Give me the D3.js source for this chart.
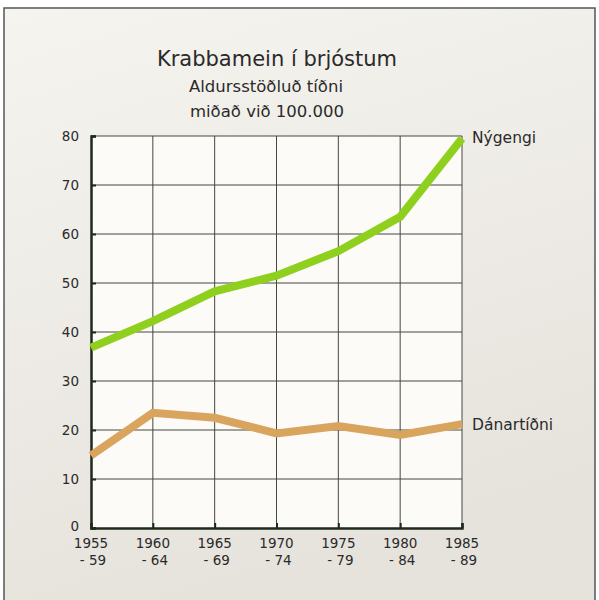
<!DOCTYPE html>
<html><head><meta charset="utf-8">
<script src="https://cdn.jsdelivr.net/npm/d3@7"></script>
<style>
html,body{margin:0;padding:0;background:#fff;}
svg{display:block;}
text{font-family:"DejaVu Sans","Liberation Sans",sans-serif;fill:#2a2a2a;}
</style></head>
<body>
<svg id="c" width="599" height="600"></svg>
<script>
const periods = ["1955","1960","1965","1970","1975","1980","1985"];
const periodEnds = ["- 59","- 64","- 69","- 74","- 79","- 84","- 89"];
const nygengi = [36.8, 42.2, 48.3, 51.5, 56.5, 63.5, 79.5];
const danartidni = [14.8, 23.5, 22.5, 19.3, 20.8, 19.0, 21.2];
const yTicks = [0,10,20,30,40,50,60,70,80];
const titleLines = ["Krabbamein í brjóstum","Aldursstöðluð tíðni","miðað við 100.000"];
const seriesNames = ["Nýgengi","Dánartíðni"];

const svg = d3.select("#c");
const defs = svg.append("defs");
const grad = defs.append("linearGradient").attr("id","bg").attr("x1","0").attr("y1","0").attr("x2","0.3").attr("y2","1");
grad.append("stop").attr("offset","0").attr("stop-color","#f6f4ef");
grad.append("stop").attr("offset","1").attr("stop-color","#e6e3dd");
svg.append("rect").attr("x",0).attr("y",0).attr("width",599).attr("height",600).attr("fill","#fff");
svg.append("rect").attr("x",4).attr("y",8).attr("width",591).attr("height",600)
  .attr("fill","url(#bg)").attr("stroke","#555").attr("stroke-width",1.5);

const x = d3.scalePoint().domain(periods).range([91,462]);
const y = d3.scaleLinear().domain([0,80]).range([528,136]);

svg.append("rect").attr("x",x(periods[0])).attr("y",y(80))
  .attr("width",x(periods[6])-x(periods[0])).attr("height",y(0)-y(80)).attr("fill","#fcfbf7");

svg.append("g").selectAll("line").data(yTicks.slice(1)).join("line")
  .attr("x1",x(periods[0])).attr("x2",x(periods[6]))
  .attr("y1",d=>y(d)).attr("y2",d=>y(d))
  .attr("stroke","#45483f").attr("stroke-width",1);
svg.append("g").selectAll("line").data(periods.slice(1)).join("line")
  .attr("x1",d=>x(d)).attr("x2",d=>x(d))
  .attr("y1",y(80)).attr("y2",y(0))
  .attr("stroke","#45483f").attr("stroke-width",1);

const yAxis = d3.axisRight(y).tickValues(yTicks).tickSize(5).tickFormat("");
const gy = svg.append("g").attr("transform",`translate(${x(periods[0])},0)`).call(yAxis);
gy.select(".domain").attr("stroke","#1e2a1e").attr("stroke-width",2.5);
gy.selectAll(".tick line").attr("stroke","#1e2a1e").attr("stroke-width",2);
const xAxis = d3.axisTop(x).tickSize(5).tickFormat("");
const gx = svg.append("g").attr("transform",`translate(0,${y(0)})`).call(xAxis);
gx.select(".domain").attr("stroke","#1e2a1e").attr("stroke-width",2.5);
gx.selectAll(".tick line").attr("stroke","#1e2a1e").attr("stroke-width",2);

svg.append("g").selectAll("text").data(yTicks).join("text")
  .attr("x",79).attr("y",d=>y(d)+(d===0?3:5)).attr("text-anchor","end")
  .attr("font-size",13.5).text(d=>d);

const xl = svg.append("g");
xl.selectAll("text.a").data(periods).join("text").attr("class","a")
  .attr("x",d=>x(d)).attr("y",548).attr("text-anchor","middle").attr("font-size",13.5).text(d=>d);
xl.selectAll("text.b").data(periods).join("text").attr("class","b")
  .attr("x",(d,i)=>x(d)+2).attr("y",565).attr("text-anchor","middle").attr("font-size",13.5).text((d,i)=>periodEnds[i]);

const line = d3.line().x((d,i)=>x(periods[i])).y(d=>y(d));
svg.append("path").datum(danartidni).attr("d",line).attr("fill","none")
  .attr("stroke","#d9a55e").attr("stroke-width",8).attr("stroke-linejoin","miter");
svg.append("path").datum(nygengi).attr("d",line).attr("fill","none")
  .attr("stroke","#8fd01e").attr("stroke-width",8).attr("stroke-linejoin","miter");

svg.append("text").attr("x",472).attr("y",y(nygengi[6])+5).attr("font-size",15.5).text(seriesNames[0]);
svg.append("text").attr("x",472).attr("y",y(danartidni[6])+6).attr("font-size",15.5).text(seriesNames[1]);

svg.append("text").attr("x",277).attr("y",66).attr("text-anchor","middle").attr("font-size",21).text(titleLines[0]);
svg.append("text").attr("x",266).attr("y",92).attr("text-anchor","middle").attr("font-size",16.5).text(titleLines[1]);
svg.append("text").attr("x",267).attr("y",117).attr("text-anchor","middle").attr("font-size",16.5).text(titleLines[2]);
</script>
</body></html>
